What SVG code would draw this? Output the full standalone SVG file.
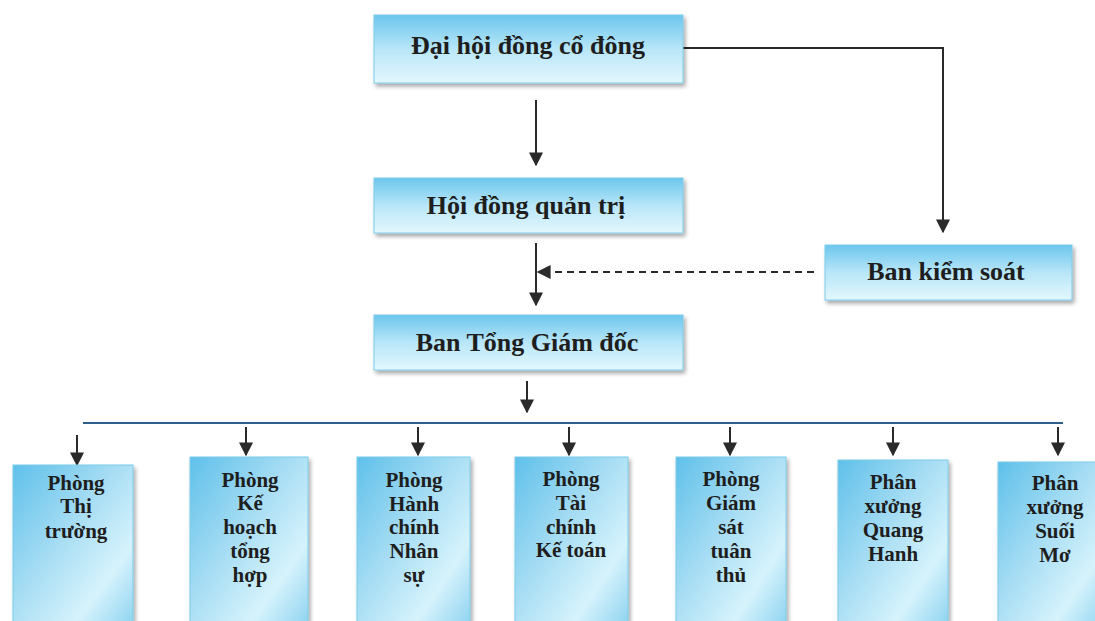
<svg xmlns="http://www.w3.org/2000/svg" width="1095" height="621" viewBox="0 0 1095 621">
<defs>
<linearGradient id="g" x1="0" y1="0" x2="1" y2="1">
<stop offset="0" stop-color="#5fc0ea"/>
<stop offset="0.45" stop-color="#a9def4"/>
<stop offset="0.75" stop-color="#d6f3fc"/>
<stop offset="1" stop-color="#8fd3f0"/>
</linearGradient>
<linearGradient id="gh" x1="0" y1="0" x2="0" y2="1">
<stop offset="0" stop-color="#6cc6ee"/>
<stop offset="0.5" stop-color="#b8e6f8"/>
<stop offset="1" stop-color="#e3f7fd"/>
</linearGradient>
<filter id="sh" x="-10%" y="-10%" width="125%" height="125%">
<feGaussianBlur in="SourceAlpha" stdDeviation="2"/>
<feOffset dx="2" dy="3"/>
<feComponentTransfer><feFuncA type="linear" slope="0.35"/></feComponentTransfer>
<feMerge><feMergeNode/><feMergeNode in="SourceGraphic"/></feMerge>
</filter>
<marker id="ahb" viewBox="0 0 10 10" refX="9" refY="5" markerWidth="14" markerHeight="14" markerUnits="userSpaceOnUse" orient="auto">
<path d="M0,0 L10,5 L0,10 z" fill="#2a2a2a"/>
</marker>
</defs>
<style>
.box{fill:url(#g);stroke:#7ccbe9;stroke-width:1;filter:url(#sh)}
.hbox{fill:url(#gh);stroke:#7ccbe9;stroke-width:1;filter:url(#sh)}
.t{font-family:"Liberation Serif","Times New Roman",serif;font-weight:bold;fill:#1e1e1e;text-anchor:middle}
.big{font-size:26px}
.sm{font-size:21px}
.ln{stroke:#2a2a2a;stroke-width:2;fill:none}
.bus{stroke:#2e5f8a;stroke-width:2;fill:none}
.dash{stroke:#2a2a2a;stroke-width:2;fill:none;stroke-dasharray:7,5}
</style>
<rect width="1095" height="621" fill="#ffffff"/>
<g id="connectors">
<line class="ln" x1="536" y1="100" x2="536" y2="165" marker-end="url(#ahb)"/>
<polyline class="ln" points="676,48 943,48 943,232" marker-end="url(#ahb)"/>
<line class="ln" x1="536" y1="243" x2="536" y2="305" marker-end="url(#ahb)"/>
<line class="dash" x1="814" y1="272" x2="538" y2="272" marker-end="url(#ahb)"/>
<line class="ln" x1="527" y1="381" x2="527" y2="412" marker-end="url(#ahb)"/>
<line class="bus" x1="83" y1="423" x2="1063" y2="423"/>
<line class="ln" x1="77" y1="435" x2="77" y2="465" marker-end="url(#ahb)"/>
<line class="ln" x1="246" y1="427" x2="246" y2="455" marker-end="url(#ahb)"/>
<line class="ln" x1="418" y1="427" x2="418" y2="455" marker-end="url(#ahb)"/>
<line class="ln" x1="569" y1="427" x2="569" y2="455" marker-end="url(#ahb)"/>
<line class="ln" x1="730" y1="427" x2="730" y2="455" marker-end="url(#ahb)"/>
<line class="ln" x1="893" y1="427" x2="893" y2="455" marker-end="url(#ahb)"/>
<line class="ln" x1="1058" y1="427" x2="1058" y2="455" marker-end="url(#ahb)"/>
</g>
<g id="dhdcd"><rect class="hbox" x="374" y="15" width="309" height="68"/><text class="t big" x="528" y="54">Đại hội đồng cổ đông</text></g>
<g id="hdqt"><rect class="hbox" x="374" y="178" width="309" height="55"/><text class="t big" x="526" y="214">Hội đồng quản trị</text></g>
<g id="bks"><rect class="hbox" x="825" y="245" width="247" height="55"/><text class="t big" x="946" y="280">Ban kiểm soát</text></g>
<g id="btgd"><rect class="hbox" x="374" y="315" width="309" height="55"/><text class="t big" x="527" y="351">Ban Tổng Giám đốc</text></g>
<g id="p1"><rect class="box" x="13" y="465" width="120" height="160"/><text class="t sm" x="76"><tspan x="76" y="490">Phòng</tspan><tspan x="76" y="513">Thị</tspan><tspan x="76" y="538">trường</tspan></text></g>
<g id="p2"><rect class="box" x="190" y="457" width="118" height="168"/><text class="t sm" x="250"><tspan x="250" y="487">Phòng</tspan><tspan x="250" y="510">Kế</tspan><tspan x="250" y="534">hoạch</tspan><tspan x="250" y="558">tổng</tspan><tspan x="250" y="582">hợp</tspan></text></g>
<g id="p3"><rect class="box" x="357" y="457" width="113" height="168"/><text class="t sm" x="414"><tspan x="414" y="487">Phòng</tspan><tspan x="414" y="511">Hành</tspan><tspan x="414" y="534">chính</tspan><tspan x="414" y="558">Nhân</tspan><tspan x="414" y="582">sự</tspan></text></g>
<g id="p4"><rect class="box" x="515" y="457" width="113" height="168"/><text class="t sm" x="571"><tspan x="571" y="486">Phòng</tspan><tspan x="571" y="510">Tài</tspan><tspan x="571" y="534">chính</tspan><tspan x="571" y="557">Kế toán</tspan></text></g>
<g id="p5"><rect class="box" x="676" y="457" width="110" height="168"/><text class="t sm" x="731"><tspan x="731" y="486">Phòng</tspan><tspan x="731" y="510">Giám</tspan><tspan x="731" y="534">sát</tspan><tspan x="731" y="558">tuân</tspan><tspan x="731" y="582">thủ</tspan></text></g>
<g id="p6"><rect class="box" x="838" y="460" width="110" height="165"/><text class="t sm" x="893"><tspan x="893" y="489">Phân</tspan><tspan x="893" y="513">xưởng</tspan><tspan x="893" y="537">Quang</tspan><tspan x="893" y="561">Hanh</tspan></text></g>
<g id="p7"><rect class="box" x="998" y="462" width="110" height="163"/><text class="t sm" x="1055"><tspan x="1055" y="490">Phân</tspan><tspan x="1055" y="514">xưởng</tspan><tspan x="1055" y="538">Suối</tspan><tspan x="1055" y="562">Mơ</tspan></text></g>
</svg>
